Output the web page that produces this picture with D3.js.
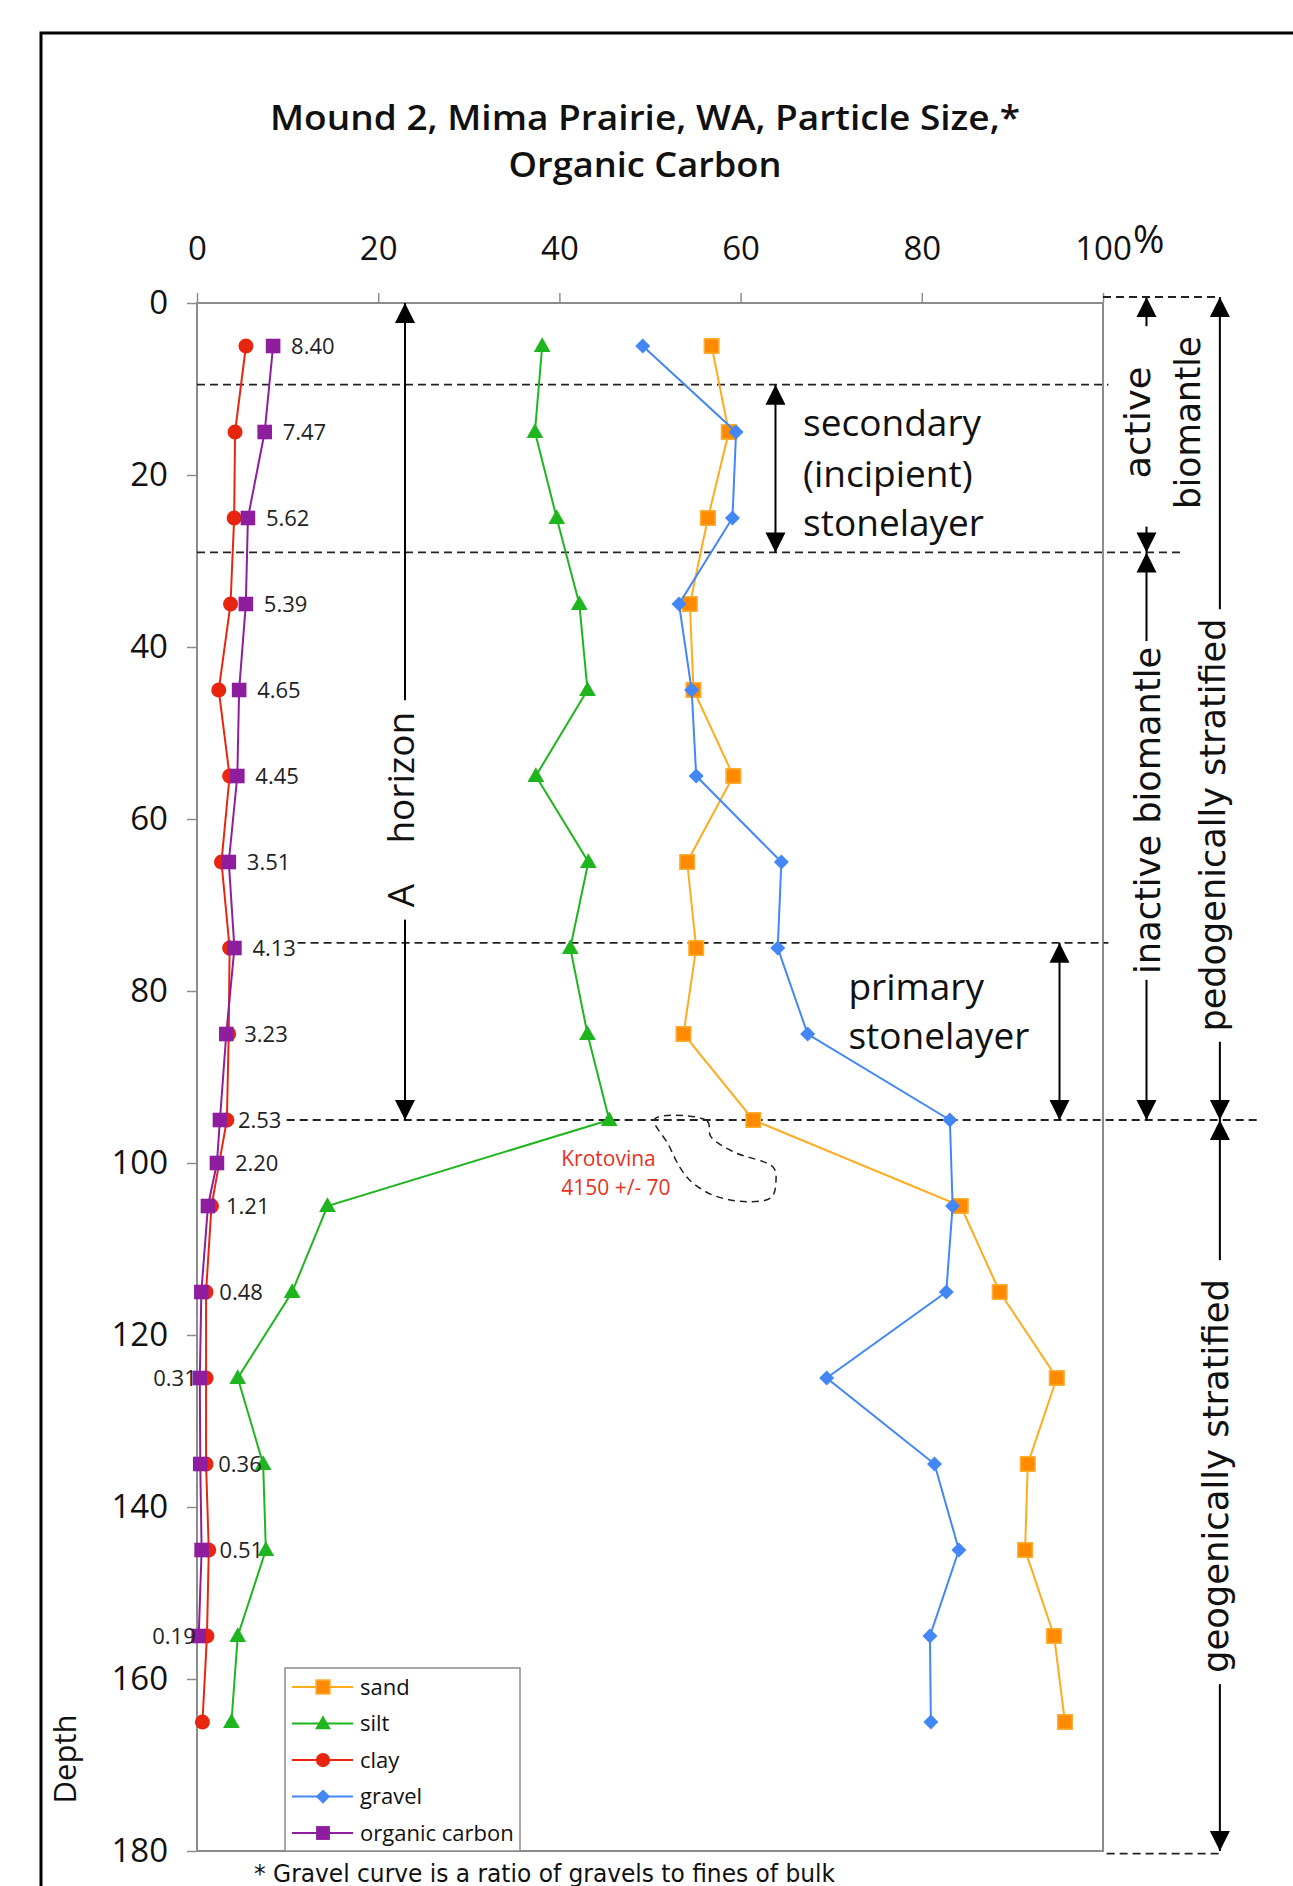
<!doctype html>
<html lang="en">
<head>
<meta charset="UTF-8">
<title>Mound 2, Mima Prairie, WA</title>
<style>
    body { margin: 0; background: #fff; }
    svg text { font-family: "Open Sans", "DejaVu Sans", sans-serif; fill: #111; }
    svg text.narrow { font-family: "Liberation Sans Narrow", "DejaVu Sans Condensed", "Liberation Sans", sans-serif; }
    .tick line { stroke: #8c8c8c; stroke-width: 1.5; }
</style>
</head>
<body>
<div class="chart"></div>
<script src="https://cdn.jsdelivr.net/npm/d3@7/dist/d3.min.js"></script>
<script>
// ---- data (depth in cm, values in %) ----
const depths = [5, 15, 25, 35, 45, 55, 65, 75, 85, 95, 105, 115, 125, 135, 145, 155, 165]
const sand   = [56.8, 58.7, 56.4, 54.4, 54.8, 59.2, 54.1, 55.1, 53.7, 61.4, 84.3, 88.6, 94.9, 91.7, 91.4, 94.6, 95.8]
const silt   = [38.1, 37.3, 39.7, 42.2, 43.1, 37.4, 43.2, 41.2, 43.1, 45.5, 14.4, 10.5, 4.5, 7.3, 7.6, 4.5, 3.8]
const clay   = [5.4, 4.2, 4.1, 3.7, 2.4, 3.6, 2.7, 3.6, 3.5, 3.3, 1.6, 1.0, 1.0, 1.0, 1.3, 1.1, 0.6]
const gravel = [49.2, 59.5, 59.1, 53.2, 54.6, 55.1, 64.5, 64.1, 67.4, 83.1, 83.4, 82.7, 69.5, 81.4, 84.1, 80.9, 81.0]
const ocDepths = [5, 15, 25, 35, 45, 55, 65, 75, 85, 95, 100, 105, 115, 125, 135, 145, 155]
const organicCarbon = [8.40, 7.47, 5.62, 5.39, 4.65, 4.45, 3.51, 4.13, 3.23, 2.53, 2.20, 1.21, 0.48, 0.31, 0.36, 0.51, 0.19]
const xTicks = [0, 20, 40, 60, 80, 100]
const yTicks = [0, 20, 40, 60, 80, 100, 120, 140, 160, 180]

const title = ['Mound 2, Mima Prairie, WA, Particle Size,*', 'Organic Carbon']
const footnote = '* Gravel curve is a ratio of gravels to fines of bulk'

let dims = { width: 1293, height: 1886, left: 197, right: 1103, top: 303, bottom: 1851 }

const x = d3.scaleLinear().domain([0, 100]).range([dims.left, dims.right])
const y = d3.scaleLinear().domain([0, 180]).range([dims.top, dims.bottom])

const series = [
    { name: 'sand', values: sand, depth: depths, line: '#ffab1f', fill: '#ff8a00', shape: 'square' },
    { name: 'silt', values: silt, depth: depths, line: '#1fb51f', fill: '#1fb51f', shape: 'triangle' },
    { name: 'clay', values: clay, depth: depths, line: '#e8260f', fill: '#e8260f', shape: 'circle' },
    { name: 'gravel', values: gravel, depth: depths, line: '#4287f5', fill: '#4287f5', shape: 'diamond' },
    { name: 'organic carbon', values: organicCarbon, depth: ocDepths, line: '#8e1e9e', fill: '#8e1e9e', shape: 'square' }
]

const svg = d3.select('.chart').append('svg')
    .attr('width', dims.width)
    .attr('height', dims.height)

// outer frame (runs off the right and bottom edge)
svg.append('rect')
    .attr('x', 41).attr('y', 33)
    .attr('width', 1400).attr('height', 2000)
    .attr('fill', 'none').attr('stroke', '#000').attr('stroke-width', 3)

// title
svg.append('text').attr('x', 645).attr('y', 130).attr('text-anchor', 'middle')
    .style('font-size', '35px').style('font-weight', 600)
    .attr('textLength', 750).attr('lengthAdjust', 'spacingAndGlyphs')
    .text(title[0])
svg.append('text').attr('x', 645).attr('y', 177).attr('text-anchor', 'middle')
    .style('font-size', '35px').style('font-weight', 600)
    .attr('textLength', 273).attr('lengthAdjust', 'spacingAndGlyphs')
    .text(title[1])

// axes
const xAxis = d3.axisTop(x).tickValues(xTicks).tickSize(10).tickPadding(33)
const gx = svg.append('g').attr('transform', 'translate(0,' + dims.top + ')').call(xAxis)
gx.select('.domain').remove()
gx.selectAll('text').style('font-size', '33px').style('fill', '#111')
svg.append('text').attr('x', x(100) + 30).attr('y', dims.top - 50)
    .style('font-size', '38px').text('%')

const yAxis = d3.axisLeft(y).tickValues(yTicks).tickSize(10).tickPadding(19)
const gy = svg.append('g').attr('transform', 'translate(' + dims.left + ',0)').call(yAxis)
gy.select('.domain').remove()
gy.selectAll('text').style('font-size', '33px').style('fill', '#111')

svg.append('rect')
    .attr('x', dims.left).attr('y', dims.top)
    .attr('width', dims.right - dims.left).attr('height', dims.bottom - dims.top)
    .attr('fill', 'none').attr('stroke', '#8c8c8c').attr('stroke-width', 2)

svg.append('text')
    .attr('transform', 'translate(76,' + 1759 + ') rotate(-90)')
    .attr('text-anchor', 'middle').style('font-size', '31px')
    .text('Depth')

// ---- horizon boundaries (dashed) ----
const dashes = [
    { depth: -0.7, from: 100, to: 112.9 },
    { depth: 9.5, from: 0, to: 100.6 },
    { depth: 29, from: 0, to: 109 },
    { depth: 74.4, from: 11.1, to: 100.6 },
    { depth: 95, from: 9.9, to: 117.3 },
    { depth: 180.3, from: 100.4, to: 112.9 }
]
svg.append('g').selectAll('line').data(dashes).enter().append('line')
    .attr('x1', d => x(d.from)).attr('x2', d => x(d.to))
    .attr('y1', d => y(d.depth)).attr('y2', d => y(d.depth))
    .attr('stroke', '#222').attr('stroke-width', 1.8).attr('stroke-dasharray', '8,5')

// krotovina outline (percent, depth)
const krotovina = [[50.5, 94.9], [56.3, 95.1], [56.7, 96.9], [59.2, 98.7], [63.6, 100.5], [63.9, 102.2],
    [63.4, 104.0], [60.9, 104.5], [57.1, 103.8], [54.6, 102.2], [53.3, 100.5], [52.0, 97.8]]
svg.append('path')
    .attr('d', d3.line().x(d => x(d[0])).y(d => y(d[1])).curve(d3.curveCatmullRomClosed)(krotovina))
    .attr('fill', 'none').attr('stroke', '#222').attr('stroke-width', 1.5).attr('stroke-dasharray', '7,5')
svg.append('text').attr('x', x(40.2)).attr('y', y(100.3)).style('fill', '#e8321e').style('font-size', '21px').text('Krotovina')
svg.append('text').attr('x', x(40.2)).attr('y', y(103.7)).style('fill', '#e8321e').style('font-size', '21px').text('4150 +/- 70')

// ---- arrows ----
const arrows = svg.append('g')
function vArrow(xv, d0, d1, gap, heads) {
    const px = x(xv), y0 = y(d0), y1 = y(d1)
    const segs = gap ? [[y0, y(gap[0])], [y(gap[1]), y1]] : [[y0, y1]]
    segs.forEach(s => arrows.append('line')
        .attr('x1', px).attr('x2', px).attr('y1', s[0]).attr('y2', s[1])
        .attr('stroke', '#000').attr('stroke-width', 2))
    if (heads !== 'down') arrows.append('path').attr('d', `M${px},${y0} l-10,20 l20,0 z`).attr('fill', '#000')
    if (heads !== 'up') arrows.append('path').attr('d', `M${px},${y1} l-10,-20 l20,0 z`).attr('fill', '#000')
}
vArrow(22.96, 0, 95, [46.2, 71.7])
vArrow(63.85, 9.5, 29)
vArrow(95.2, 74.4, 95)
vArrow(104.8, -0.7, 29, [2.7, 26.0])
vArrow(104.8, 29, 95, [39.3, 78.7])
vArrow(112.9, -0.7, 95, [35.6, 85.9])
vArrow(112.9, 95, 180, [111.3, 160.6])

function vText(xv, dv, txt, size, len, cls) {
    const t = svg.append('text')
        .attr('transform', 'translate(' + x(xv) + ',' + y(dv) + ') rotate(-90)')
        .attr('text-anchor', 'middle').style('font-size', size + 'px')
        .text(txt)
    if (cls) t.attr('class', cls)
    if (len) t.attr('textLength', len).attr('lengthAdjust', 'spacingAndGlyphs')
}
vText(23.96, 55.2, 'horizon', 37)
vText(23.96, 68.9, 'A', 37)
vText(105.2, 13.9, 'active', 36, 112, 'narrow')
vText(110.7, 13.9, 'biomantle', 36, 173, 'narrow')
vText(106.3, 59.0, 'inactive biomantle', 36, 327, 'narrow')
vText(113.5, 60.7, 'pedogenically stratified', 36, 413, 'narrow')
vText(113.8, 136.4, 'geogenically stratified', 36, 394, 'narrow')

const stoneText = [
    { lines: ['secondary', '(incipient)', 'stonelayer'], xv: 66.9, d: [15.45, 21.35, 27.05] },
    { lines: ['primary', 'stonelayer'], xv: 71.9, d: [81.1, 86.7] }
]
stoneText.forEach(s => s.lines.forEach((l, i) => {
    svg.append('text').attr('x', x(s.xv)).attr('y', y(s.d[i])).style('font-size', '37px').text(l)
}))

// ---- series ----
function symbolPath(shape, s) {
    if (shape === 'square') return `M${-s},${-s}h${2 * s}v${2 * s}h${-2 * s}z`
    if (shape === 'diamond') return `M0,${-s}L${s},0L0,${s}L${-s},0z`
    if (shape === 'triangle') return `M0,${-s * 1.1}L${s * 1.05},${s * 0.75}L${-s * 1.05},${s * 0.75}z`
    return d3.symbol(d3.symbolCircle, Math.PI * s * s)()
}
const sizes = { square: 7.3, diamond: 7.5, triangle: 8, circle: 7.5 }

series.forEach(sr => {
    const pts = sr.values.map((v, i) => [v, sr.depth[i]])
    const g = svg.append('g')
    g.append('path')
        .attr('d', d3.line().x(d => x(d[0])).y(d => y(d[1]))(pts))
        .attr('fill', 'none').attr('stroke', sr.line).attr('stroke-width', 2)
    g.selectAll('.pt').data(pts).enter().append('path')
        .attr('transform', d => 'translate(' + x(d[0]) + ',' + y(d[1]) + ')')
        .attr('d', symbolPath(sr.shape, sizes[sr.shape]))
        .attr('fill', sr.fill)
        .attr('stroke', sr.name === 'sand' ? '#ffae33' : 'none').attr('stroke-width', 1.5)
})

// organic carbon values
svg.append('g').selectAll('text').data(organicCarbon).enter().append('text')
    .attr('x', d => d < 0.35 ? x(d) - 3 : x(d) + 18)
    .attr('y', (d, i) => y(ocDepths[i]))
    .attr('dy', '0.36em')
    .attr('text-anchor', d => d < 0.35 ? 'end' : 'start')
    .style('font-size', '22px').style('fill', '#222')
    .text(d => d.toFixed(2))

// ---- legend ----
const legend = svg.append('g').attr('transform', 'translate(285,1668)')
legend.append('rect').attr('width', 235).attr('height', 183)
    .attr('fill', '#fff').attr('stroke', '#8c8c8c').attr('stroke-width', 1.5)
series.forEach((sr, i) => {
    const ly = 19 + i * 36.5
    legend.append('line').attr('x1', 7).attr('x2', 68).attr('y1', ly).attr('y2', ly)
        .attr('stroke', sr.line).attr('stroke-width', 2)
    legend.append('path').attr('transform', 'translate(38,' + ly + ')')
        .attr('d', symbolPath(sr.shape, sizes[sr.shape] * 0.95))
        .attr('fill', sr.fill)
        .attr('stroke', sr.name === 'sand' ? '#ffae33' : 'none').attr('stroke-width', 1.5)
    legend.append('text').attr('x', 75).attr('y', ly).attr('dy', '0.35em')
        .style('font-size', '22px').text(sr.name)
})

svg.append('text').attr('class', 'narrow').attr('x', 254).attr('y', 1882)
    .style('font-size', '25px').attr('textLength', 581).attr('lengthAdjust', 'spacingAndGlyphs')
    .text(footnote)
</script>
</body>
</html>
